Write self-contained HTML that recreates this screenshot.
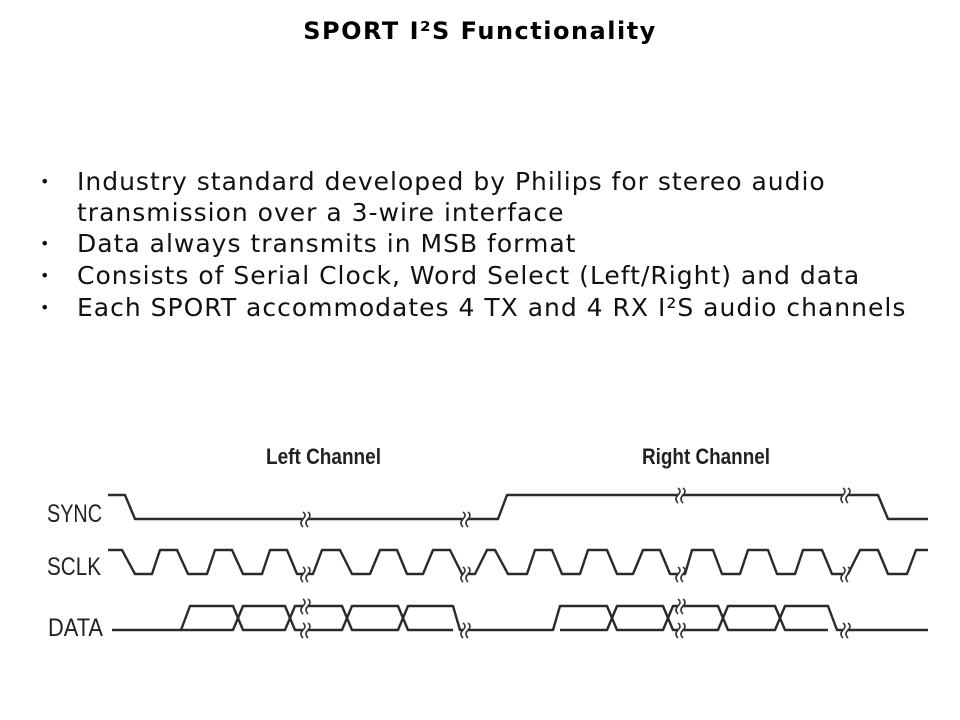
<!DOCTYPE html>
<html><head><meta charset="utf-8"><style>
html,body{margin:0;padding:0;background:#fff;width:960px;height:720px;overflow:hidden;font-family:"DejaVu Sans",sans-serif;}
.t{position:absolute;left:0;width:960px;top:17px;text-align:center;font-weight:bold;font-size:24px;letter-spacing:1.5px;color:#000;}
.b{position:absolute;left:0;top:0;font-size:25px;letter-spacing:1px;color:#111;}
.b div{position:absolute;white-space:nowrap;}
</style></head><body>
<div class="t">SPORT I²S Functionality</div>
<div class="b">
<div style="left:40px;top:172px;font-size:16px">•</div>
<div style="left:77px;top:167px">Industry standard developed by Philips for stereo audio</div>
<div style="left:77px;top:198px">transmission over a 3-wire interface</div>
<div style="left:40px;top:234px;font-size:16px">•</div>
<div style="left:77px;top:229px">Data always transmits in MSB format</div>
<div style="left:40px;top:266px;font-size:16px">•</div>
<div style="left:77px;top:261px">Consists of Serial Clock, Word Select (Left/Right) and data</div>
<div style="left:40px;top:298px;font-size:16px">•</div>
<div style="left:77px;top:293px">Each SPORT accommodates 4 TX and 4 RX I²S audio channels</div>
</div>
<svg width="960" height="720" style="position:absolute;left:0;top:0" xmlns="http://www.w3.org/2000/svg">
<g font-family="Liberation Sans Narrow, Liberation Sans, sans-serif" fill="#222">
<text x="266" y="464" font-size="22" font-weight="bold" textLength="115" lengthAdjust="spacingAndGlyphs">Left Channel</text>
<text x="642" y="464" font-size="22" font-weight="bold" textLength="128" lengthAdjust="spacingAndGlyphs">Right Channel</text>
<text x="47" y="522" font-size="25" textLength="55" lengthAdjust="spacingAndGlyphs">SYNC</text>
<text x="47" y="575" font-size="25" textLength="54" lengthAdjust="spacingAndGlyphs">SCLK</text>
<text x="48" y="636" font-size="25" textLength="55" lengthAdjust="spacingAndGlyphs">DATA</text>
</g>
<g fill="none" stroke="#2a2a2a" stroke-width="2.4" stroke-linejoin="round">
<polyline points="108,495 125,495 135,519 303,519"/>
<polyline points="308,519 463,519"/>
<polyline points="468,519 498,519 507,495 678,495"/>
<polyline points="683,495 843,495"/>
<polyline points="848,495 878,495 888,519 928,519"/>
<polyline points="108,550 122,550 135,574 152,574 160,550 177,550 188,574 207,574 215,550 232,550 243,574 262,574 270,550 287,550 297,574 303,574"/>
<polyline points="308,574 313,574 322,550 340,550 352,574 370,574 380,550 397,550 407,574 423,574 433,550 450,550 462,574 463,574"/>
<polyline points="468,574 475,574 487,550 495,550 508,574 527,574 535,550 552,550 562,574 580,574 588,550 607,550 617,574 633,574 643,550 660,550 670,574 678,574"/>
<polyline points="683,574 685,574 692,550 713,550 722,574 740,574 748,550 768,550 777,574 795,574 803,550 822,550 832,574 843,574"/>
<polyline points="848,574 848,574 860,550 878,550 888,574 907,574 916,550 928,550"/>
<polyline points="112,630 181,630 190,606 233,606 243,630 285,630 295,606 303,606"/>
<polyline points="181,630 233,630 243,606 285,606 295,630 303,630"/>
<polyline points="308,606 342,606 352,630 398,630 408,606 453,606 460,630 463,630"/>
<polyline points="308,630 342,630 352,606 398,606 408,630 453,630"/>
<polyline points="468,630 553,630 560,606 607,606 617,630 663,630 673,606 678,606"/>
<polyline points="560,630 607,630 617,606 663,606 673,630 678,630"/>
<polyline points="683,606 718,606 728,630 775,630 785,606 828,606 837,630 843,630"/>
<polyline points="683,630 718,630 728,606 775,606 785,630 828,630"/>
<polyline points="848,630 928,630"/>
</g>
<g fill="none" stroke="#333" stroke-width="1.6">
<path d="M303,512 q4,3 0,7 q-4,4 0,8 M308,512 q4,3 0,7 q-4,4 0,8"/>
<path d="M463,512 q4,3 0,7 q-4,4 0,8 M468,512 q4,3 0,7 q-4,4 0,8"/>
<path d="M678,488 q4,3 0,7 q-4,4 0,8 M683,488 q4,3 0,7 q-4,4 0,8"/>
<path d="M843,488 q4,3 0,7 q-4,4 0,8 M848,488 q4,3 0,7 q-4,4 0,8"/>
<path d="M303,567 q4,3 0,7 q-4,4 0,8 M308,567 q4,3 0,7 q-4,4 0,8"/>
<path d="M463,567 q4,3 0,7 q-4,4 0,8 M468,567 q4,3 0,7 q-4,4 0,8"/>
<path d="M678,567 q4,3 0,7 q-4,4 0,8 M683,567 q4,3 0,7 q-4,4 0,8"/>
<path d="M843,567 q4,3 0,7 q-4,4 0,8 M848,567 q4,3 0,7 q-4,4 0,8"/>
<path d="M303,599 q4,3 0,7 q-4,4 0,8 M308,599 q4,3 0,7 q-4,4 0,8"/>
<path d="M303,623 q4,3 0,7 q-4,4 0,8 M308,623 q4,3 0,7 q-4,4 0,8"/>
<path d="M463,623 q4,3 0,7 q-4,4 0,8 M468,623 q4,3 0,7 q-4,4 0,8"/>
<path d="M678,599 q4,3 0,7 q-4,4 0,8 M683,599 q4,3 0,7 q-4,4 0,8"/>
<path d="M678,623 q4,3 0,7 q-4,4 0,8 M683,623 q4,3 0,7 q-4,4 0,8"/>
<path d="M843,623 q4,3 0,7 q-4,4 0,8 M848,623 q4,3 0,7 q-4,4 0,8"/>
</g>
</svg>
</body></html>
